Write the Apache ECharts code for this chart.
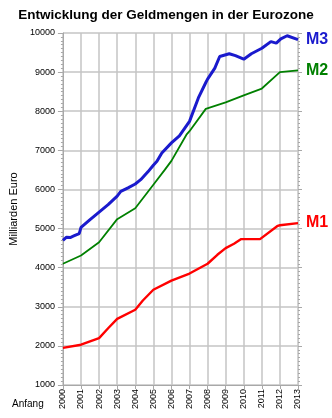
<!DOCTYPE html>
<html><head><meta charset="utf-8">
<script src="https://cdn.jsdelivr.net/npm/echarts@6/dist/echarts.min.js"></script>
<style>html,body{margin:0;padding:0;background:#fff}#c{width:332px;height:418px}</style>
</head><body><div id="c"></div>
<script>
var titleText = 'Entwicklung der Geldmengen in der Eurozone';
var yAxisTitle = 'Milliarden Euro';
var xNote = 'Anfang';
var seriesNames = ['M3', 'M2', 'M1'];

var m3Years = [2000.0,2000.2,2000.4,2000.6,2000.9,2001.0,2001.5,2002.0,2002.5,2003.0,2003.2,2003.6,2004.0,2004.3,2004.7,2005.0,2005.2,2005.47,2006.0,2006.44,2007.0,2007.49,2007.93,2008.0,2008.4,2008.67,2009.2,2009.54,2010.0,2010.42,2011.0,2011.5,2011.8,2012.05,2012.4,2013.0];
var m3Values = [4700,4780,4770,4810,4870,5030,5230,5420,5610,5830,5950,6040,6140,6250,6450,6620,6720,6930,7190,7370,7740,8340,8760,8820,9100,9400,9470,9420,9330,9470,9610,9780,9740,9850,9930,9830];

var m2Years = [2000,2001,2002,2003,2004,2005,2005.63,2006,2006.83,2007,2007.9,2008,2009,2010,2011,2012,2013];
var m2Values = [4100,4310,4650,5240,5520,6120,6500,6730,7400,7490,8060,8070,8225,8405,8580,9000,9045];

var m1Years = [2000,2001,2002,2002.5,2003,2004,2004.42,2005,2006,2007,2008,2008.54,2009,2009.46,2009.86,2010.9,2011.88,2012,2013];
var m1Values = [1950,2030,2200,2450,2690,2925,3160,3435,3670,3850,4100,4330,4500,4610,4730,4730,5070,5085,5140];

var xTicksMin = 2000, xTicksMax = 2013;
var yMin = 1000, yMax = 10000;

function zip(a, b) { return a.map(function (v, i) { return [v, b[i]]; }); }

var chart = echarts.init(document.getElementById('c'));
var grid = {left: 51, right: 34, top: 33, bottom: 33};
var fontTick = {fontFamily: 'Liberation Sans', fontSize: 9, color: '#000'};
function mkSeries(name, data, color, width) {
  return {
    name: name, type: 'line', data: data, symbol: 'none', smooth: false,
    lineStyle: {color: color, width: width}, itemStyle: {color: color},
    endLabel: {show: true, formatter: name, color: color, fontFamily: 'Liberation Sans',
      fontSize: 16, fontWeight: 'bold', distance: 8},
    z: 3
  };
}
chart.setOption({
  animation: false,
  title: {text: titleText, left: 'center', top: 3,
    textStyle: {fontFamily: 'Liberation Sans', fontWeight: 'bold', fontSize: 13.5, color: '#000'}},
  grid: grid,
  xAxis: {
    type: 'value', min: xTicksMin, max: xTicksMax, interval: 1,
    axisLine: {lineStyle: {color: '#a8a8a8'}},
    axisTick: {show: true, length: 4, lineStyle: {color: '#a8a8a8'}},
    axisLabel: Object.assign({rotate: 90, margin: 4, formatter: function (v) { return String(v); }}, fontTick),
    splitLine: {show: true, lineStyle: {color: '#c4c4c4', width: 1.5}}
  },
  yAxis: [{
    type: 'value', min: yMin, max: yMax, interval: 1000,
    name: yAxisTitle, nameLocation: 'middle', nameGap: 40, nameRotate: 90,
    nameTextStyle: {fontFamily: 'Liberation Sans', fontSize: 11, color: '#000'},
    axisLine: {show: true, lineStyle: {color: '#a8a8a8'}},
    axisTick: {show: true, length: 5, lineStyle: {color: '#a8a8a8'}},
    minorTick: {show: true, splitNumber: 10, length: 2, lineStyle: {color: '#a8a8a8'}},
    axisLabel: Object.assign({margin: 8, formatter: function (v) { return String(v); }}, fontTick),
    splitLine: {show: true, lineStyle: {color: '#c4c4c4', width: 1.5}}
  }, {
    type: 'value', min: yMin, max: yMax, interval: 1000, position: 'right',
    axisLine: {show: true, lineStyle: {color: '#c8c8c8'}},
    axisTick: {show: true, length: 4, lineStyle: {color: '#a8a8a8'}},
    minorTick: {show: true, splitNumber: 10, length: 2, lineStyle: {color: '#a8a8a8'}},
    axisLabel: {show: false}, splitLine: {show: false}
  }],
  graphic: [{type: 'text', left: 12, top: 399,
    style: {text: xNote, fontFamily: 'Liberation Sans', fontSize: 10, fill: '#000'}}],
  series: [
    mkSeries(seriesNames[0], zip(m3Years, m3Values), '#1a1acd', 3),
    mkSeries(seriesNames[1], zip(m2Years, m2Values), '#008000', 1.8),
    mkSeries(seriesNames[2], zip(m1Years, m1Values), '#ff0000', 2.4)
  ]
});
</script></body></html>
